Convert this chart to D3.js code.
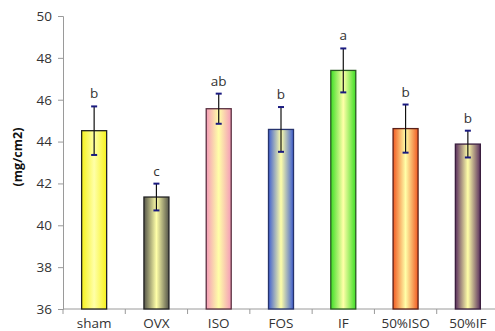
<!DOCTYPE html>
<html lang="en">
<head>
<meta charset="UTF-8">
<title>mg/cm2</title>
<script src="https://d3js.org/d3.v7.min.js"></script>
<style>
  body { margin: 0; background: #fff; }
  svg text { font-family: "Open Sans", "DejaVu Sans", sans-serif; }
</style>
</head>
<body>
<svg width="495" height="331"></svg>
<script>
const groups = ["sham", "OVX", "ISO", "FOS", "IF", "50%ISO", "50%IF"];
const means = [44.52, 41.35, 45.57, 44.58, 47.40, 44.62, 43.88];
const errs = [1.16, 0.64, 0.72, 1.07, 1.05, 1.15, 0.64];
const letters = ["b", "c", "ab", "b", "a", "b", "b"];
const yTicks = [36, 38, 40, 42, 44, 46, 48, 50];

const edgeColors = ["#f6f21c", "#55554a", "#f49bb8", "#3f5fd0", "#3ddf25", "#f25a22", "#5a2f5e"];
const strokeColors = ["#222", "#222", "#5a3040", "#26336e", "#2a5a22", "#5a2018", "#3a1e3e"];

const svg = d3.select("svg");
const mLeft = 63, mRight = 499, mTop = 16, mBottom = 309;

const x = d3.scaleBand().domain(groups).range([mLeft, mRight]).padding(0);
const y = d3.scaleLinear().domain([36, 50]).range([mBottom, mTop]);

const defs = svg.append("defs");
groups.forEach((g, i) => {
    const grad = defs.append("linearGradient")
        .attr("id", "grad" + i)
        .attr("x1", "0%").attr("x2", "100%").attr("y1", "0%").attr("y2", "0%");
    grad.append("stop").attr("offset", "0%").attr("stop-color", edgeColors[i]);
    grad.append("stop").attr("offset", "50%").attr("stop-color", "#ffffa8");
    grad.append("stop").attr("offset", "100%").attr("stop-color", edgeColors[i]);
});

// axes
const yAxis = svg.append("g")
    .attr("transform", `translate(${mLeft},0)`)
    .call(d3.axisLeft(y).tickValues(yTicks).tickSize(5).tickPadding(6));
yAxis.select(".domain").attr("stroke", "#9a9a9a");
yAxis.selectAll(".tick line").attr("stroke", "#9a9a9a");
yAxis.selectAll(".tick text").attr("font-size", 13.5).attr("fill", "#333");

const xg = svg.append("g").attr("transform", `translate(0,${mBottom})`);
xg.append("line").attr("x1", mLeft).attr("x2", mRight).attr("stroke", "#9a9a9a");
xg.selectAll(".xt").data(d3.range(groups.length + 1)).join("line")
    .attr("x1", i => mLeft + i * x.bandwidth())
    .attr("x2", i => mLeft + i * x.bandwidth())
    .attr("y1", 0).attr("y2", 5)
    .attr("stroke", "#9a9a9a");
xg.selectAll(".xl").data(groups).join("text")
    .attr("x", d => x(d) + x.bandwidth() / 2)
    .attr("y", 19)
    .attr("text-anchor", "middle")
    .attr("font-size", 13.5)
    .attr("fill", "#333")
    .text(d => d);

// bars
const bw = 25;
svg.selectAll(".bar").data(groups).join("rect")
    .attr("x", d => x(d) + x.bandwidth() / 2 - bw / 2)
    .attr("y", (d, i) => y(means[i]))
    .attr("width", bw)
    .attr("height", (d, i) => mBottom - y(means[i]))
    .attr("fill", (d, i) => `url(#grad${i})`)
    .attr("stroke", (d, i) => strokeColors[i])
    .attr("stroke-width", 1.3);

// error bars and letters
const eb = svg.append("g");
groups.forEach((g, i) => {
    const cx = x(g) + x.bandwidth() / 2;
    eb.append("line")
        .attr("x1", cx).attr("x2", cx)
        .attr("y1", y(means[i] + errs[i])).attr("y2", y(means[i] - errs[i]))
        .attr("stroke", "#111").attr("stroke-width", 1.2);
    [means[i] + errs[i], means[i] - errs[i]].forEach(v => {
        eb.append("line")
            .attr("x1", cx - 3).attr("x2", cx + 3)
            .attr("y1", y(v)).attr("y2", y(v))
            .attr("stroke", "#1a1a80").attr("stroke-width", 2);
    });
    svg.append("text")
        .attr("x", cx)
        .attr("y", y(means[i] + errs[i]) - 8)
        .attr("text-anchor", "middle")
        .attr("font-size", 13.5)
        .attr("fill", "#333")
        .text(letters[i]);
});

svg.append("text")
    .attr("transform", "translate(22,157) rotate(-90)")
    .attr("text-anchor", "middle")
    .attr("font-size", 12.5)
    .attr("font-weight", "bold")
    .attr("fill", "#111")
    .text("(mg/cm2)");
</script>
</body>
</html>
